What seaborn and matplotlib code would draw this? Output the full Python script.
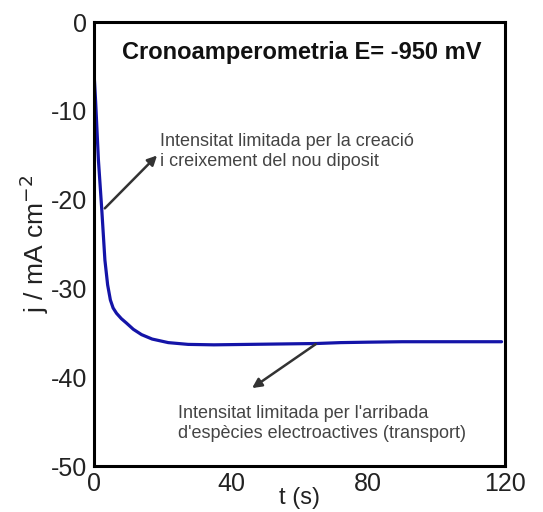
import matplotlib
matplotlib.use("Agg")
import matplotlib.pyplot as plt
import seaborn as sns
import pandas as pd

t_s = [0, 0.5, 1.3, 2.3, 3.2, 4.0, 4.8, 5.6, 6.6, 8, 9.5, 11.5, 13.9, 17, 21.7,
       27.5, 35, 45, 55, 65, 72, 80, 90, 100, 110, 119]
j_mA = [-5.5, -9, -15.5, -21.2, -26.8, -29.6, -31.3, -32.2, -32.8, -33.4, -33.9,
        -34.6, -35.2, -35.7, -36.1, -36.3, -36.35, -36.3, -36.25, -36.2, -36.1,
        -36.05, -36.0, -36.0, -36.0, -36.0]
x_ticks = [0, 40, 80, 120]
y_ticks = [0, -10, -20, -30, -40, -50]

title = "Cronoamperometria E= -950 mV"
note1 = "Intensitat limitada per la creació\ni creixement del nou diposit"
note2 = "Intensitat limitada per l'arribada\nd'espècies electroactives (transport)"

sns.set_style("white")
plt.rcParams['font.family'] = ['Liberation Sans', 'DejaVu Sans']
plt.rcParams['axes.unicode_minus'] = False

df = pd.DataFrame({"t": t_s, "j": j_mA})

fig = plt.figure(figsize=(5.43, 5.12), dpi=100)
ax = fig.add_axes([0.173, 0.0898, 0.757, 0.867])
sns.lineplot(data=df, x="t", y="j", ax=ax, sort=False, estimator=None,
             color="#1414a8", linewidth=2.3)

ax.set_xlim(0, 120)
ax.set_ylim(-50, 0)
ax.set_xticks(x_ticks)
ax.set_yticks(y_ticks)
ax.tick_params(axis="both", length=0, labelsize=18, colors="#222222")
ax.tick_params(axis="x", pad=4)
ax.tick_params(axis="y", pad=5)
for s in ax.spines.values():
    s.set_color("black")
    s.set_linewidth(2.2)

ax.set_xlabel("t (s)", fontsize=17, labelpad=-6, color="#222222")
ax.set_ylabel("j / mA cm$^{-2}$", fontsize=19, labelpad=0, color="#222222")

ax.text(0.506, 0.932, title, transform=ax.transAxes, ha="center", va="center",
        fontsize=17, fontweight="bold", color="#111111")

ax.annotate(note1, xy=(19.3, -14.6), xytext=(19.3, -14.6), fontsize=13,
            color="#444444", va="center", ha="left", linespacing=1.25)
ax.annotate("", xy=(19.0, -14.8), xytext=(2.6, -21.2),
            arrowprops=dict(arrowstyle="-|>", color="#333333", lw=1.8,
                            mutation_scale=14))
ax.annotate(note2, xy=(24.5, -45.2), xytext=(24.5, -45.2), fontsize=13,
            color="#444444", va="center", ha="left", linespacing=1.25)
ax.annotate("", xy=(45.5, -41.4), xytext=(65.4, -36.1),
            arrowprops=dict(arrowstyle="-|>", color="#333333", lw=1.8,
                            mutation_scale=14))

fig.savefig("out.png", dpi=100)
